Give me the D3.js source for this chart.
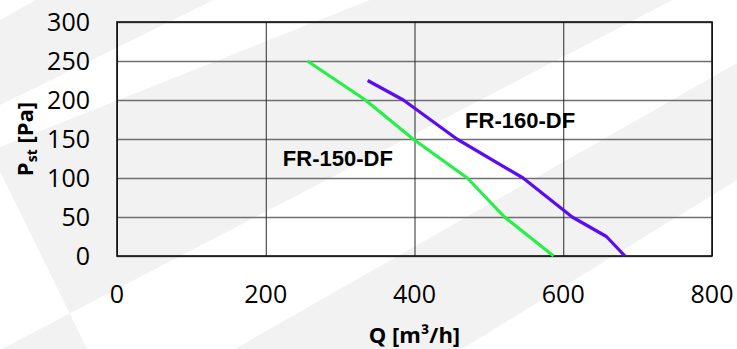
<!DOCTYPE html>
<html>
<head>
<meta charset="utf-8">
<script src="https://cdn.jsdelivr.net/npm/d3@7"></script>
<style>
  html, body { margin: 0; padding: 0; background: #ffffff; }
  svg { display: block; }
</style>
</head>
<body>
<svg id="chart" width="737" height="349"></svg>
<script>
// Axis ticks
const flowTicks = [0, 200, 400, 600, 800];
const pressureTicks = [0, 50, 100, 150, 200, 250, 300];

// Fan curves: airflow Q [m³/h] against static pressure P_st [Pa]
const fr150Flow = [256, 295, 334, 398, 471, 521, 587];
const fr150Pressure = [250, 225, 200, 150, 100, 50, 0];
const fr160Flow = [337, 385, 457, 546, 612, 658, 683];
const fr160Pressure = [225, 200, 150, 100, 50, 25, 0];

const seriesNames = ["FR-150-DF", "FR-160-DF"];
const seriesColors = ["#26ef45", "#5a0cf2"];
// label anchor in data units (left end of text, baseline)
const labelFlow = [223, 468];
const labelPressure = [115, 164];

const W = 737, H = 349;
const margin = { left: 117, right: 25, top: 22, bottom: 93 };

const svg = d3.select("#chart");

// decorative diagonal band background
const bands = [
  [[-10, 26], [46, -6], [226, -6], [-10, 110]],
  [[-10, 151], [385, -6], [684, -6], [-10, 355], [90, 355]],
  [[224, 355], [760, 50], [760, 166], [452, 355]]
];
svg.append("rect").attr("width", W).attr("height", H).attr("fill", "#ffffff");
svg.append("g").selectAll("polygon").data(bands).join("polygon")
  .attr("points", d => d.map(p => p.join(",")).join(" "))
  .attr("fill", "#f2f2f2");

const x = d3.scaleLinear().domain([0, 800]).range([margin.left, W - margin.right]);
const y = d3.scaleLinear().domain([0, 300]).range([H - margin.bottom, margin.top]);

const plot = svg.append("g");

// horizontal grid
plot.append("g").attr("transform", `translate(${margin.left},0)`)
  .call(d3.axisLeft(y).tickValues(pressureTicks).tickSize(-(x(800) - x(0))).tickFormat(""))
  .call(g => g.select(".domain").remove())
  .call(g => g.selectAll("line").attr("stroke", "#6f6f6f").attr("stroke-width", 1.6));

// vertical grid
plot.append("g").attr("transform", `translate(0,${y(0)})`)
  .call(d3.axisBottom(x).tickValues(flowTicks).tickSize(-(y(0) - y(300))).tickFormat(""))
  .call(g => g.select(".domain").remove())
  .call(g => g.selectAll("line").attr("stroke", "#2a2a2a").attr("stroke-width", 1));

// plot frame
plot.append("rect")
  .attr("x", x(0)).attr("y", y(300))
  .attr("width", x(800) - x(0)).attr("height", y(0) - y(300))
  .attr("fill", "none").attr("stroke", "#111").attr("stroke-width", 1.6);

// tick labels
const tickFont = "'Open Sans', sans-serif";
svg.append("g").selectAll("text").data(pressureTicks).join("text")
  .attr("x", 90).attr("y", d => y(d)).attr("dy", "0.36em")
  .attr("text-anchor", "end")
  .attr("font-family", tickFont).attr("font-size", 25).attr("fill", "#000")
  .text(d => d);

svg.append("g").selectAll("text").data(flowTicks).join("text")
  .attr("x", d => x(d)).attr("y", 303)
  .attr("text-anchor", "middle")
  .attr("font-family", tickFont).attr("font-size", 25).attr("fill", "#000")
  .text(d => d);

// axis titles
svg.append("text")
  .attr("x", (x(0) + x(800)) / 2).attr("y", 343)
  .attr("text-anchor", "middle")
  .attr("font-family", tickFont).attr("font-size", 22).attr("font-weight", "bold")
  .text("Q [m³/h]");

const yTitle = svg.append("text")
  .attr("transform", `translate(33,${(y(0) + y(300)) / 2}) rotate(-90)`)
  .attr("text-anchor", "middle")
  .attr("font-family", tickFont).attr("font-size", 22).attr("font-weight", "bold");
yTitle.append("tspan").text("P");
yTitle.append("tspan").attr("font-size", 14).attr("dy", 4).text("st");
yTitle.append("tspan").attr("dy", -4).text(" [Pa]");

// curves
const series = [
  { flow: fr150Flow, pressure: fr150Pressure },
  { flow: fr160Flow, pressure: fr160Pressure }
];
const line = d3.line().x(d => x(d[0])).y(d => y(d[1]));
svg.append("g").selectAll("path").data(series).join("path")
  .attr("d", s => line(s.flow.map((q, i) => [q, s.pressure[i]])))
  .attr("fill", "none")
  .attr("stroke", (s, i) => seriesColors[i])
  .attr("stroke-width", 3.2)
  .attr("stroke-linejoin", "round");

// curve names
svg.append("g").selectAll("text").data(seriesNames).join("text")
  .attr("x", (d, i) => x(labelFlow[i])).attr("y", (d, i) => y(labelPressure[i]))
  .attr("font-family", "'Liberation Sans', Arial, sans-serif")
  .attr("font-size", 22).attr("font-weight", "bold").attr("fill", "#000")
  .text(d => d);
</script>
</body>
</html>
